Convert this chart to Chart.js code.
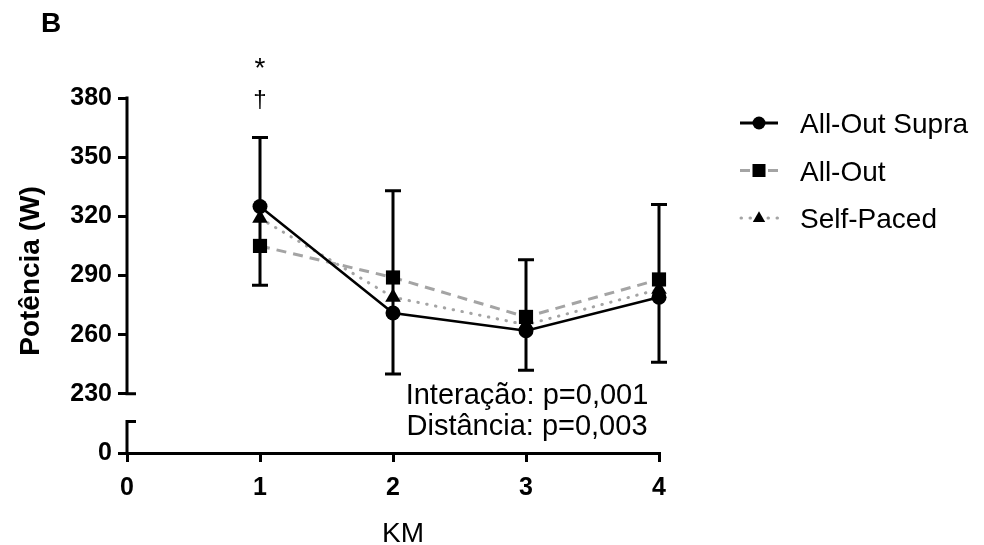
<!DOCTYPE html>
<html lang="pt">
<head>
<meta charset="UTF-8">
<title>Potência por KM</title>
<script src="https://cdn.jsdelivr.net/npm/chart.js"></script>
<style>
  html, body { margin: 0; padding: 0; background: #fff; }
  canvas { display: block; }
</style>
</head>
<body>
<canvas id="powerChart" width="984" height="545"></canvas>
<script>
// values
const km = [1, 2, 3, 4];
const supra = [325, 271, 262, 279];
const allOut = [305, 289, 269, 288];
const selfPaced = [319, 279, 265, 283];
const errTop = [360, 333, 298, 326];
const errBottom = [285, 240, 242, 246];
const yTicks = [200, 230, 260, 290, 320, 350, 380]; // 200 is the "0" under the axis break
const xTicks = [0, 1, 2, 3, 4];
const seriesNames = ['All-Out Supra', 'All-Out', 'Self-Paced'];
const statLines = ['Interação: p=0,001', 'Distância: p=0,003'];

const FONT = "'Liberation Sans', Arial, sans-serif";
const GRAY = '#a4a4a4';
Chart.defaults.font.family = FONT;
Chart.defaults.color = '#000';

function drawMarker(ctx, style, x, y, r) {
  ctx.fillStyle = '#000';
  ctx.beginPath();
  if (style === 'circle') {
    ctx.arc(x, y, r, 0, Math.PI * 2);
  } else if (style === 'rect') {
    ctx.rect(x - r, y - r, 2 * r, 2 * r);
  } else {
    ctx.moveTo(x, y - r * 1.05);
    ctx.lineTo(x + r * 0.95, y + r * 0.6);
    ctx.lineTo(x - r * 0.95, y + r * 0.6);
    ctx.closePath();
  }
  ctx.fill();
}

const extras = {
  id: 'extras',
  afterDatasetsDraw(chart) {
    const ctx = chart.ctx, xs = chart.scales.x, ys = chart.scales.y;
    ctx.save();
    ctx.strokeStyle = '#000';
    ctx.lineWidth = 3;
    km.forEach((k, i) => {
      const x = xs.getPixelForValue(k);
      const yt = ys.getPixelForValue(errTop[i]);
      const yb = ys.getPixelForValue(errBottom[i]);
      ctx.beginPath();
      ctx.moveTo(x, yt); ctx.lineTo(x, yb);
      ctx.moveTo(x - 8, yt); ctx.lineTo(x + 8, yt);
      ctx.moveTo(x - 8, yb); ctx.lineTo(x + 8, yb);
      ctx.stroke();
    });
    ctx.restore();
  },
  afterDraw(chart) {
    const ctx = chart.ctx, xs = chart.scales.x, ys = chart.scales.y;
    const ax = chart.chartArea.left;
    ctx.save();

    // broken y axis
    ctx.strokeStyle = '#000';
    ctx.lineWidth = 3;
    ctx.beginPath();
    ctx.moveTo(ax, ys.getPixelForValue(380) - 1.5);
    ctx.lineTo(ax, ys.getPixelForValue(230) + 1.5);
    ctx.moveTo(ax, ys.getPixelForValue(230));
    ctx.lineTo(ax + 9, ys.getPixelForValue(230));
    ctx.moveTo(ax - 1.5, ys.getPixelForValue(216));
    ctx.lineTo(ax + 9, ys.getPixelForValue(216));
    ctx.moveTo(ax, ys.getPixelForValue(216) - 1.5);
    ctx.lineTo(ax, ys.getPixelForValue(200));
    ctx.stroke();

    ctx.fillStyle = '#000';
    ctx.textBaseline = 'alphabetic';

    // panel letter
    ctx.font = 'bold 28px ' + FONT;
    ctx.textAlign = 'left';
    ctx.fillText('B', 41, 32);

    // significance marks over km 1
    const x1 = xs.getPixelForValue(1);
    ctx.textAlign = 'center';
    ctx.font = '28px ' + FONT;
    ctx.fillText('*', x1, 77);
    ctx.font = '24px ' + FONT;
    ctx.fillText('\u2020', x1, 107);

    // axis titles
    ctx.font = '28px ' + FONT;
    ctx.fillText('KM', 403, 542);
    ctx.save();
    ctx.translate(39, 271);
    ctx.rotate(-Math.PI / 2);
    ctx.font = 'bold 28px ' + FONT;
    ctx.fillText('Potência (W)', 0, 0);
    ctx.restore();

    // statistics
    ctx.font = '29px ' + FONT;
    ctx.fillText(statLines[0], 527, 404);
    ctx.fillText(statLines[1], 527, 435);

    // legend
    const styles = chart.data.datasets;
    ctx.textAlign = 'left';
    ctx.font = '28px ' + FONT;
    styles.forEach((ds, i) => {
      const cy = 123 + i * 47.5;
      ctx.save();
      ctx.strokeStyle = ds.borderColor;
      ctx.lineWidth = 3;
      ctx.lineCap = ds.borderCapStyle || 'butt';
      ctx.setLineDash(i === 1 ? [10, 18] : (ds.borderDash || []));
      ctx.beginPath();
      ctx.moveTo(i === 2 ? 741 : 740, cy);
      ctx.lineTo(778, cy);
      ctx.stroke();
      ctx.restore();
      drawMarker(ctx, ds.pointStyle, 759, cy, 6.5);
      ctx.fillStyle = '#000';
      ctx.fillText(seriesNames[i], 800, cy + 10);
    });

    ctx.restore();
  }
};

const ctx = document.getElementById('powerChart').getContext('2d');
const powerChart = new Chart(ctx, {
  type: 'line',
  data: {
    datasets: [
      {
        label: seriesNames[0],
        data: km.map((k, i) => ({ x: k, y: supra[i] })),
        borderColor: '#000',
        borderWidth: 2.5,
        pointStyle: 'circle',
        pointRadius: 7.5,
        pointBackgroundColor: '#000',
        pointBorderWidth: 0,
        clip: false
      },
      {
        label: seriesNames[1],
        data: km.map((k, i) => ({ x: k, y: allOut[i] })),
        borderColor: GRAY,
        borderWidth: 3,
        borderDash: [10, 7],
        pointStyle: 'rect',
        pointRadius: 10,
        pointBackgroundColor: '#000',
        pointBorderWidth: 0,
        clip: false
      },
      {
        label: seriesNames[2],
        data: km.map((k, i) => ({ x: k, y: selfPaced[i] })),
        borderColor: GRAY,
        borderWidth: 3,
        borderDash: [0.5, 8.5],
        borderCapStyle: 'round',
        pointStyle: 'triangle',
        pointRadius: 9,
        pointBackgroundColor: '#000',
        pointBorderWidth: 0,
        clip: false
      }
    ]
  },
  options: {
    responsive: false,
    animation: false,
    events: [],
    layout: { padding: { top: 98, right: 325, left: 0, bottom: 0 } },
    plugins: {
      legend: { display: false },
      tooltip: { enabled: false }
    },
    scales: {
      x: {
        type: 'linear',
        min: 0,
        max: 4,
        afterBuildTicks: s => { s.ticks = xTicks.map(v => ({ value: v })); },
        afterFit: s => { s.height = 92; },
        grid: { drawOnChartArea: false, color: '#000', lineWidth: 3, tickLength: 9 },
        border: { display: true, color: '#000', width: 3 },
        ticks: { font: { size: 25, weight: 'bold' }, padding: 11, color: '#000' }
      },
      y: {
        type: 'linear',
        min: 200,
        max: 380,
        afterBuildTicks: s => { s.ticks = yTicks.map(v => ({ value: v })); },
        afterFit: s => { s.width = 127; },
        grid: { drawOnChartArea: false, color: '#000', lineWidth: 3, tickLength: 9 },
        border: { display: false },
        ticks: {
          font: { size: 25, weight: 'bold' },
          padding: 6,
          color: '#000',
          callback: v => (v === 200 ? '0' : v)
        }
      }
    }
  },
  plugins: [extras]
});
</script>
</body>
</html>
